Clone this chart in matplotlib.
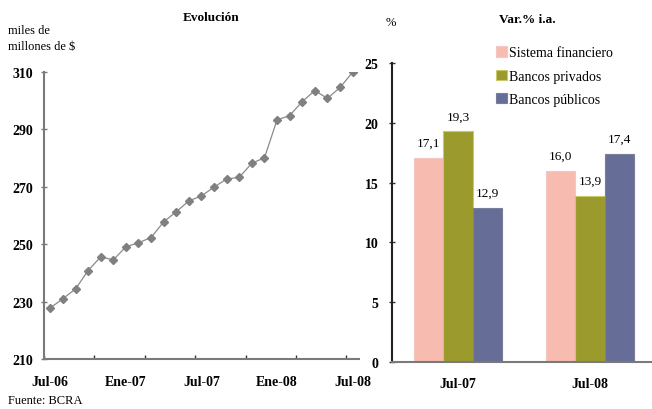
import matplotlib.pyplot as plt
import numpy as np

plt.rcParams['font.family'] = ['Liberation Serif', 'DejaVu Serif']

# Datos: evolución mensual (miles de millones de $), jul-06 a jul-08
meses = ['Jul-06', 'Ago-06', 'Sep-06', 'Oct-06', 'Nov-06', 'Dic-06',
         'Ene-07', 'Feb-07', 'Mar-07', 'Abr-07', 'May-07', 'Jun-07',
         'Jul-07', 'Ago-07', 'Sep-07', 'Oct-07', 'Nov-07', 'Dic-07',
         'Ene-08', 'Feb-08', 'Mar-08', 'Abr-08', 'May-08', 'Jun-08', 'Jul-08']
saldo = [227.8, 231.0, 234.4, 240.8, 245.6, 244.5, 249.1, 250.5, 252.3,
         257.8, 261.3, 265.1, 266.8, 269.9, 272.7, 273.3, 278.2, 280.1,
         293.3, 294.8, 299.7, 303.5, 300.8, 304.6, 309.9]

# Datos: variación % interanual
periodos = ['Jul-07', 'Jul-08']
series = ['Sistema financiero', 'Bancos privados', 'Bancos públicos']
var_sistema = [17.1, 16.0]
var_privados = [19.3, 13.9]
var_publicos = [12.9, 17.4]
colores = ['#F8BBB0', '#9A9B2C', '#666E98']
bordes = ['#F4C8C0', '#C9C86A', '#7A7F99']

gris = '#7a7a7a'

fig = plt.figure(figsize=(6.52, 4.10), dpi=100)

# --- Panel izquierdo: evolución ---
ax1 = fig.add_axes([0.0675, 0.122, 0.483, 0.700])
x = np.arange(len(meses))
ax1.plot(x, saldo, color='#8a8a8a', lw=0.9, marker='D', markersize=4.2,
         markerfacecolor='#808080', markeredgecolor='#808080')
ax1.set_ylim(210, 310)
ax1.set_xlim(-0.5, len(meses) - 0.5)
ax1.set_yticks([210, 230, 250, 270, 290, 310])
ax1.set_yticklabels(['210', '230', '250', '270', '290', '310'],
                    fontweight='bold', fontsize=10)
ax1.tick_params(axis='y', direction='inout', length=5, width=1, color=gris, pad=5)
# marcas entre categorías cada 4 meses, etiquetas cada 6
ax1.set_xticks(np.arange(-0.5, len(meses), 4))
ax1.set_xticklabels([])
ax1.tick_params(axis='x', direction='in', length=3, width=1, color='#333333')
for i in range(0, len(meses), 6):
    ax1.text(i, 204.5, meses[i], ha='center', va='top', fontsize=10,
             fontweight='bold')
for s in ['top', 'right']:
    ax1.spines[s].set_visible(False)
for s in ['left', 'bottom']:
    ax1.spines[s].set_color(gris)
    ax1.spines[s].set_linewidth(1.5)

fig.text(0.324, 0.956, 'Evolución', fontsize=9.5, fontweight='bold',
         ha='center', va='center')
fig.text(0.012, 0.925, 'miles de', fontsize=9, va='center')
fig.text(0.012, 0.886, 'millones de $', fontsize=9, va='center')
fig.text(0.012, 0.022, 'Fuente: BCRA', fontsize=9, va='center')

# --- Panel derecho: variación % i.a. ---
ax2 = fig.add_axes([0.601, 0.1154, 0.399, 0.728])
xb = np.arange(len(periodos))
ancho = 0.223
for k, (vals, nombre) in enumerate(zip([var_sistema, var_privados, var_publicos], series)):
    pos = xb + (k - 1) * ancho
    ax2.bar(pos, vals, ancho, color=colores[k], edgecolor=bordes[k],
            linewidth=0.8, label=nombre)
    for p, v in zip(pos, vals):
        ax2.text(p, v + 0.75, f'{v:.1f}'.replace('.', ','), ha='center',
                 va='bottom', fontsize=9.5)
ax2.set_ylim(0, 25)
ax2.set_xlim(-0.5, 1.47)
ax2.set_yticks([0, 5, 10, 15, 20, 25])
ax2.set_yticklabels(['0', '5', '10', '15', '20', '25'], fontweight='bold', fontsize=10)
ax2.tick_params(axis='y', direction='inout', length=5, width=1, color='#333333', pad=7)
ax2.set_xticks(xb)
ax2.set_xticklabels(periodos, fontweight='bold', fontsize=10)
ax2.tick_params(axis='x', length=0, pad=11)
for s in ['top', 'right']:
    ax2.spines[s].set_visible(False)
for s in ['left', 'bottom']:
    ax2.spines[s].set_color(gris)
    ax2.spines[s].set_linewidth(1.5)
ax2.spines['left'].set_color('#222222')
fig.text(0.808, 0.951, 'Var.% i.a.', fontsize=9.5, fontweight='bold',
         ha='center', va='center')
fig.text(0.592, 0.945, '%', fontsize=9, va='center')

ax2.legend(loc='upper left', bbox_to_anchor=(0.38, 1.075), frameon=False,
           fontsize=10, handlelength=0.75, handleheight=0.75,
           handletextpad=0.2, labelspacing=0.75, borderaxespad=0)

fig.savefig('out.png', dpi=100)
